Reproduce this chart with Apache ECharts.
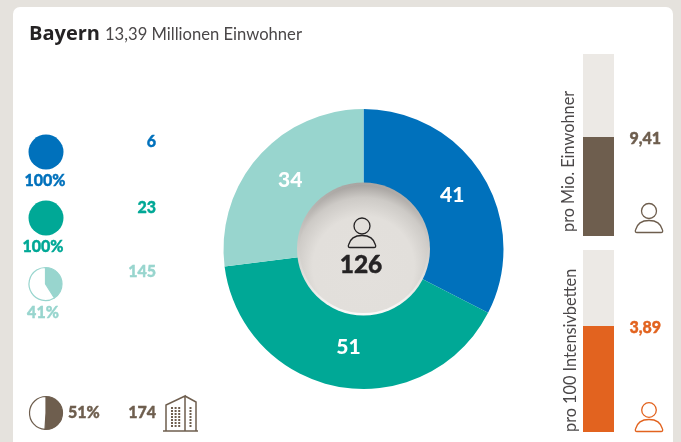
<!DOCTYPE html>
<html><head><meta charset="utf-8">
<script src="https://cdn.jsdelivr.net/npm/echarts@6/dist/echarts.min.js"></script>
<style>
html,body{margin:0;padding:0;width:681px;height:442px;overflow:hidden;background:#e5e2dd}
#card{position:absolute;left:13px;top:7px;width:660px;height:445px;background:#fff;border-radius:7px}
#c{position:absolute;left:0;top:0;width:681px;height:442px}
</style></head><body><div id="card"></div><div id="c"></div>
<script>
const regionName = 'Bayern';
const regionSub = '13,39 Millionen Einwohner';
const donutNames = ['Blau','Grün','Hellgrün'];
const donutValues = [41, 51, 34];
const totalCases = '126';
const sharePercents = [100, 100, 41, 51];
const sideCounts = ['6', '23', '145', '174'];
const barLabels = ['pro Mio. Einwohner', 'pro 100 Intensivbetten'];
const barValues = [9.41, 3.89];
const barMax = [17.3, 6.68];
const barValueText = ['9,41', '3,89'];

const FONT = 'Lato, "Open Sans", sans-serif';
const BLUE='#0071bc', TEAL='#00a896', LIGHT='#98d5ce', BROWN='#6e5e4e', ORANGE='#e2631f', TRACK='#ece9e5', INK='#252324';
const donutColors=[BLUE,TEAL,LIGHT];

echarts.graphic.registerShape('personBody', echarts.graphic.extendShape({
  shape:{},
  buildPath(ctx){
    ctx.moveTo(-12,21.5);
    ctx.bezierCurveTo(-13.5,21.5,-14,20.5,-13.5,19);
    ctx.bezierCurveTo(-12,13,-7,9.5,0,9.5);
    ctx.bezierCurveTo(7,9.5,12,13,13.5,19);
    ctx.bezierCurveTo(14,20.5,13.5,21.5,12,21.5);
    ctx.closePath();
  }
}));

function miniPie(cx,cy,r,val,color){
  return {type:'pie',silent:true,center:[cx,cy],radius:[0,r],startAngle:90,clockwise:true,
    animation:false,label:{show:false},labelLine:{show:false},
    data:[{value:val,itemStyle:{color:color,borderColor:color,borderWidth:val===100?0:1.2}},
          {value:100-val,itemStyle:{color:'#fff',borderColor:color,borderWidth:val===100?0:1.2}}]};
}
function txt(x,y,s,color,size,weight,align,extra,font){
  const heavy=weight===900;
  return Object.assign({type:'text',x:x,y:y,z:20,style:{text:s,fill:color,font:(weight||'bold')+' '+size+'px '+(font||FONT),
    textAlign:align||'left',textVerticalAlign:'middle',stroke:heavy?color:null,lineWidth:heavy?0.4:0}},extra||{});
}
function person(cx,cy,color,r){
  return {type:'group',x:cx,y:cy,z:20,children:[
    {type:'circle',z:20,shape:{cx:0,cy:0,r:r},style:{fill:'none',stroke:color,lineWidth:1.3}},
    {type:'personBody',z:20,shape:{},style:{fill:'none',stroke:color,lineWidth:1.3}}
  ]};
}
function building(){
  const kids=[{type:'polyline',z:20,shape:{points:[[163,431],[198,431]]},style:{stroke:BROWN,lineWidth:1.5,fill:'none'}},
    {type:'polyline',z:20,shape:{points:[[166,431],[166,405],[185,396],[185,431]]},style:{stroke:BROWN,lineWidth:1.5,fill:'none'}},
    {type:'polyline',z:20,shape:{points:[[185,396],[196,402],[196,431]]},style:{stroke:BROWN,lineWidth:1.5,fill:'none'}}];
  for(let r=0;r<7;r++){for(let q=0;q<3;q++){kids.push({type:'rect',z:20,shape:{x:171+q*3.6,y:407+r*3,width:2,height:2},style:{fill:BROWN}});}
    kids.push({type:'rect',z:20,shape:{x:189.5,y:407+r*3,width:2,height:2},style:{fill:BROWN}});}
  return {type:'group',children:kids};
}
const barGrids=[{left:583,top:54,width:31,height:182},{left:583,top:250,width:31,height:182}];
const barColors=[BROWN,ORANGE];

const chart=echarts.init(document.getElementById('c'),null,{renderer:'canvas'});
chart.setOption({
  animation:false,backgroundColor:'transparent',
  grid:barGrids,
  xAxis:barGrids.map((g,i)=>({gridIndex:i,type:'category',data:[barLabels[i]],show:false})),
  yAxis:barGrids.map((g,i)=>({gridIndex:i,type:'value',min:0,max:barMax[i],show:false})),
  series:[
    {type:'pie',silent:true,center:[363.5,249],radius:[60,140],startAngle:90,clockwise:true,
     data:donutValues.map((v,i)=>({name:donutNames[i],value:v,itemStyle:{color:donutColors[i]}})),
     label:{show:false},labelLine:{show:false}},
    {type:'pie',silent:true,center:[366,247.5],radius:[66,130],startAngle:90,clockwise:true,z:3,
     data:donutValues.map((v,i)=>({name:donutNames[i],value:v,itemStyle:{color:'transparent'}})),
     label:{show:true,position:'inside',formatter:'{c}',color:'#fff',fontFamily:FONT,fontWeight:900,fontSize:21},labelLine:{show:false}},
    miniPie(46,152,17.5,sharePercents[0],BLUE),
    miniPie(46,218,17.5,sharePercents[1],TEAL),
    miniPie(45.5,284,16.5,sharePercents[2],LIGHT),
    miniPie(46,413,16.5,sharePercents[3],BROWN),
    ...barGrids.map((g,i)=>({type:'bar',xAxisIndex:i,yAxisIndex:i,data:[barValues[i]],barWidth:'100%',
      itemStyle:{color:barColors[i]},showBackground:true,backgroundStyle:{color:TRACK},silent:true}))
  ],
  graphic:{elements:[
    txt(29,34,regionName,INK,20,'bold','left',null,'"Open Sans", sans-serif'),
    txt(105,35,regionSub,'#4a4748',16.6,'normal'),
    {type:'circle',z:15,shape:{cx:363.5,cy:249,r:66.5},style:{fill:new echarts.graphic.LinearGradient(0,0,0,1,[{offset:0,color:'#a9a5a2'},{offset:.55,color:'#d5d2ce'},{offset:1,color:'#fbfaf9'}])}},
    {type:'circle',z:16,shape:{cx:363.5,cy:249,r:64},style:{fill:new echarts.graphic.RadialGradient(.5,.64,.66,[{offset:0,color:'#e3e0dc'},{offset:.6,color:'#e2dfdb'},{offset:.82,color:'#cdcac6'},{offset:1,color:'#a09c99'}])}},
    person(362,226,INK,8),
    txt(361,265,totalCases,INK,24.5,900,'center'),
    txt(45,181,sharePercents[0]+'%',BLUE,16,900,'center'),
    txt(43,247,sharePercents[1]+'%',TEAL,16,900,'center'),
    txt(43,313,sharePercents[2]+'%',LIGHT,16,900,'center'),
    txt(68,413,sharePercents[3]+'%',BROWN,16,900,'left'),
    txt(156,142,sideCounts[0],BLUE,16,900,'right'),
    txt(156,208,sideCounts[1],TEAL,16,900,'right'),
    txt(156,272,sideCounts[2],LIGHT,16,900,'right'),
    txt(156,413,sideCounts[3],BROWN,16,900,'right'),
    building(),
    txt(569,232,barLabels[0],'#4a4748',16.3,'normal','left',{rotation:Math.PI/2}),
    txt(571,432,barLabels[1],'#4a4748',16.3,'normal','left',{rotation:Math.PI/2}),
    txt(661,139,barValueText[0],BROWN,16,900,'right'),
    txt(661,328,barValueText[1],ORANGE,16,900,'right'),
    person(649,211,BROWN,7.5),
    person(649,410,ORANGE,7.3)
  ]}
});
</script></body></html>
